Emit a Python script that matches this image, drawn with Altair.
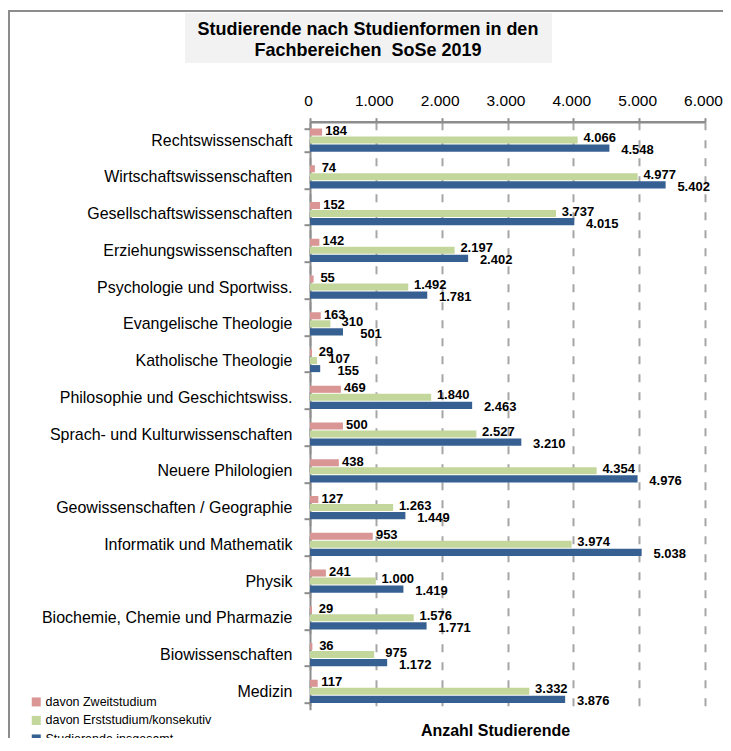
import altair as alt
import pandas as pd

categories = [
    "Rechtswissenschaft",
    "Wirtschaftswissenschaften",
    "Gesellschaftswissenschaften",
    "Erziehungswissenschaften",
    "Psychologie und Sportwiss.",
    "Evangelische Theologie",
    "Katholische Theologie",
    "Philosophie und Geschichtswiss.",
    "Sprach- und Kulturwissenschaften",
    "Neuere Philologien",
    "Geowissenschaften / Geographie",
    "Informatik und Mathematik",
    "Physik",
    "Biochemie, Chemie und Pharmazie",
    "Biowissenschaften",
    "Medizin",
]
zweitstudium = [184, 74, 152, 142, 55, 163, 29, 469, 500, 438, 127, 953, 241, 29, 36, 117]
erststudium = [4066, 4977, 3737, 2197, 1492, 310, 107, 1840, 2527, 4354, 1263, 3974, 1000, 1576, 975, 3332]
insgesamt = [4548, 5402, 4015, 2402, 1781, 501, 155, 2463, 3210, 4976, 1449, 5038, 1419, 1771, 1172, 3876]

series = ["davon Zweitstudium", "davon Erststudium/konsekutiv", "Studierende insgesamt"]
colors = ["#D99694", "#C3D69B", "#376092"]
x_ticks = [0, 1000, 2000, 3000, 4000, 5000, 6000]

title_lines = ["Studierende nach Studienformen in den", "Fachbereichen\u00a0 SoSe 2019"]
x_title = "Anzahl Studierende"

# chart-area border (left and top edge), as a polyline in a unit square
frame_u = [0, 0, 1]
frame_v = [1, 0, 0]

rows = []
for i, c in enumerate(categories):
    for s, vals in zip(series, [zweitstudium, erststudium, insgesamt]):
        rows.append({"Fachbereich": c, "Serie": s, "Wert": vals[i]})
df = pd.DataFrame(rows)

FONT = "Liberation Sans"

y_scale = alt.Scale(domain=categories, paddingInner=0.37, paddingOuter=0.185)
y_enc = alt.Y(
    "Fachbereich:N",
    sort=categories,
    scale=y_scale,
    axis=alt.Axis(
        title=None, tickBand="extent", labelFontSize=16, labelFont=FONT,
        labelColor="#000", labelPadding=12, tickSize=6, tickColor="#8c8c8c",
        tickWidth=2, domainColor="#8c8c8c", domainWidth=2, grid=False, labelLimit=400,
    ),
)
yoff = alt.YOffset("Serie:N", sort=series, scale=alt.Scale(domain=series, paddingInner=0.12, paddingOuter=0))
x_enc = alt.X(
    "Wert:Q",
    scale=alt.Scale(domain=[0, 6000], nice=False),
    axis=alt.Axis(
        orient="top", values=x_ticks, title=None,
        labelExpr="replace(format(datum.value, ',d'), ',', '.')",
        labelFontSize=15.5, labelFont=FONT, labelColor="#000", labelPadding=9,
        labelFlush=False, labelOverlap=False, labelOffset=-2,
        tickSize=4, tickColor="#8c8c8c", tickWidth=2,
        domainColor="#8c8c8c", domainWidth=2.5,
        grid=True, gridDash=[8, 10], gridColor="#a6a6a6", gridWidth=2,
    ),
)

base = alt.Chart(df).transform_calculate(
    label="replace(format(datum.Wert, ',d'), ',', '.')"
)

bars = base.mark_bar().encode(
    x=x_enc,
    y=y_enc,
    yOffset=yoff,
    color=alt.Color(
        "Serie:N", sort=series,
        scale=alt.Scale(domain=series, range=colors),
        legend=alt.Legend(
            orient="none", legendX=-280, legendY=574, title=None,
            symbolType="square", symbolSize=81, symbolStrokeWidth=0,
            labelFontSize=12.5, labelFont=FONT, labelColor="#000", labelLimit=300,
            rowPadding=5.5, padding=0, labelOffset=3,
        ),
    ),
)

offsets = {series[0]: (14, -1), series[1]: (22, -2), series[2]: (28, 2)}
label_layers = []
for s in series:
    dx, dy = offsets[s]
    label_layers.append(
        base.transform_filter(alt.datum.Serie == s).mark_text(
            align="center", baseline="middle", dx=dx, dy=dy,
            fontSize=13, fontWeight="bold", font=FONT, color="#000",
        ).encode(x=alt.X("Wert:Q"), y=alt.Y("Fachbereich:N", sort=categories), yOffset=yoff, text="label:N")
    )

one = pd.DataFrame({"k": [0]})
title_box = alt.Chart(one).mark_rect(fill="#f2f2f2").encode(
    x=alt.value(-125), x2=alt.value(242), y=alt.value(-108.7), y2=alt.value(-58.7)
)
t1 = alt.Chart(pd.DataFrame({"t": [title_lines[0]]})).mark_text(
    fontSize=18, fontWeight="bold", font=FONT, color="#000", align="center", baseline="middle"
).encode(x=alt.value(58), y=alt.value(-91.7), text="t:N")
t2 = alt.Chart(pd.DataFrame({"t": [title_lines[1]]})).mark_text(
    fontSize=18, fontWeight="bold", font=FONT, color="#000", align="center", baseline="middle"
).encode(x=alt.value(58), y=alt.value(-71.1), text="t:N")
xt = alt.Chart(pd.DataFrame({"t": [x_title]})).mark_text(
    fontSize=16, fontWeight="bold", font=FONT, color="#000", align="center", baseline="middle"
).encode(x=alt.value(185.5), y=alt.value(609), text="t:N")

frame_df = pd.DataFrame({"u": frame_u, "v": frame_v, "o": list(range(len(frame_u)))})
frame = alt.Chart(frame_df).mark_line(color="#8c8c8c", strokeWidth=2, strokeJoin="miter").encode(
    x=alt.X("u:Q", scale=alt.Scale(domain=[0, 1], range=[-301, 430]), axis=None),
    y=alt.Y("v:Q", scale=alt.Scale(domain=[0, 1], range=[-110.7, 640]), axis=None),
    order="o:Q",
)

main = alt.layer(title_box, t1, t2, bars, *label_layers, xt)

chart = alt.layer(frame, main).resolve_scale(x="independent", y="independent").properties(
    width=395,
    height=588,
    autosize=alt.AutoSizeParams(type="none"),
    padding={"left": 302, "top": 113.7, "right": 18, "bottom": 28},
).configure_view(stroke=None)

chart.save("out.html", embed_options={"renderer": "svg", "actions": False})
